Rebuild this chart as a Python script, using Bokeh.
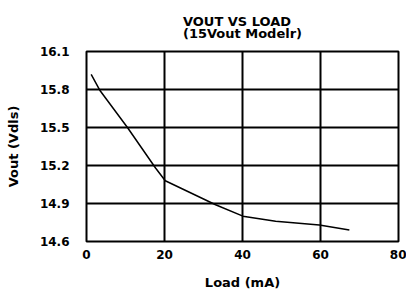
from bokeh.plotting import figure
from bokeh.models import Title, FixedTicker, Range1d
from bokeh.embed import file_html
from bokeh.resources import INLINE

load_ma = [1.2, 3.5, 10.5, 17.7, 20.2, 33.1, 40.1, 48.5, 59.7, 67.4]
vout = [15.92, 15.79, 15.50, 15.18, 15.08, 14.89, 14.80, 14.76, 14.73, 14.69]
x_ticks = [0, 20, 40, 60, 80]
y_ticks = [14.6, 14.9, 15.2, 15.5, 15.8, 16.1]
title_lines = ["VOUT VS LOAD", "(15Vout Modelr)"]

FONT = "DejaVu Sans"

p = figure(frame_width=312, frame_height=190,
           x_range=Range1d(0, 80), y_range=Range1d(14.6, 16.1),
           output_backend="svg", toolbar_location=None,
           min_border_left=86, min_border_right=8,
           min_border_top=51, min_border_bottom=50)

p.add_layout(Title(text="\n".join(title_lines), align="center", text_font=FONT,
                   text_font_size="13px", text_font_style="bold", text_color="black",
                   text_line_height=0.75, standoff=22, offset=7), "above")

p.line(load_ma, vout, line_color="black", line_width=1.5)

p.xaxis.ticker = FixedTicker(ticks=x_ticks)
p.yaxis.ticker = FixedTicker(ticks=y_ticks)
p.yaxis.formatter.use_scientific = False

for ax in (p.xaxis, p.yaxis):
    ax.axis_line_color = None
    ax.major_tick_line_color = None
    ax.minor_tick_line_color = None
    ax.major_tick_in = 0
    ax.major_tick_out = 0
    ax.major_label_text_font = FONT
    ax.major_label_text_font_size = "12px"
    ax.major_label_text_font_style = "bold"
    ax.major_label_text_color = "black"
    ax.axis_label_text_font = FONT
    ax.axis_label_text_font_size = "13px"
    ax.axis_label_text_font_style = "bold"
    ax.axis_label_text_color = "black"

p.xaxis.axis_label = "Load (mA)"
p.yaxis.axis_label = "Vout (Vdls)"
p.xaxis.major_label_standoff = 8
p.yaxis.major_label_standoff = 17
p.xaxis.axis_label_standoff = 13
p.yaxis.axis_label_standoff = 16

p.grid.grid_line_color = "black"
p.grid.grid_line_width = 2
p.grid.grid_line_alpha = 1
p.outline_line_color = "black"
p.outline_line_width = 2
p.outline_line_alpha = 1

open("out.html", "w").write(file_html(p, INLINE))
